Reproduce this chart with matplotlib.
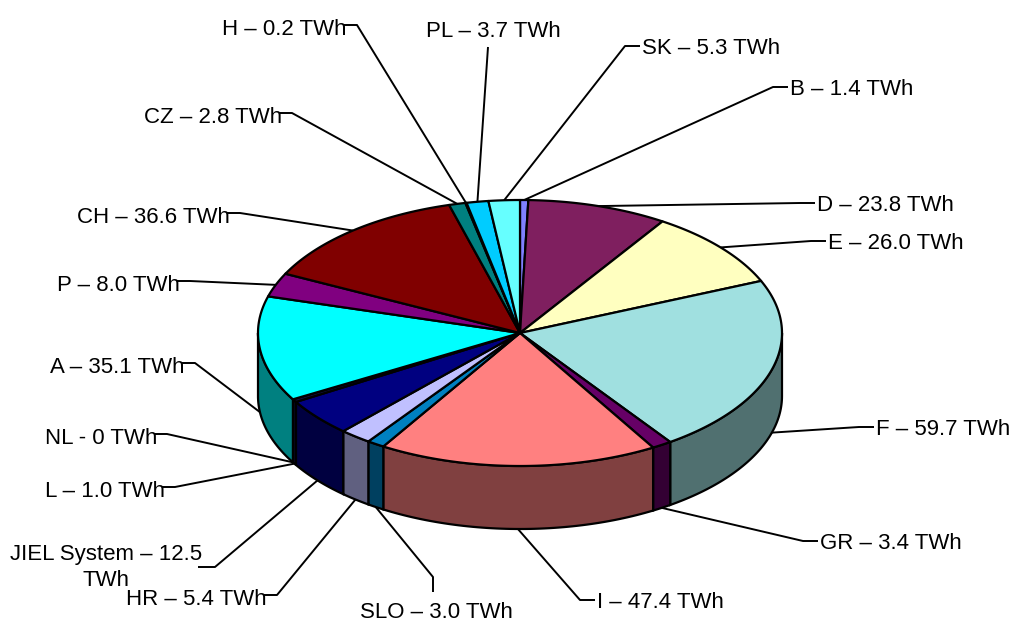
import numpy as np
import matplotlib.pyplot as plt
from matplotlib.patches import Polygon

plt.rcParams['font.family'] = ['Liberation Sans', 'DejaVu Sans']

# slices in clockwise order starting at 12 o'clock
countries = ["B", "D", "E", "F", "GR", "I", "SLO", "HR", "JIEL System", "L",
             "NL", "A", "P", "CH", "CZ", "H", "PL", "SK"]
energy_twh = [1.4, 23.8, 26.0, 59.7, 3.4, 47.4, 3.0, 5.4, 12.5, 1.0,
              0.0, 35.1, 8.0, 36.6, 2.8, 0.2, 3.7, 5.3]
slice_colors = ["#8080FF", "#7F1F5F", "#FFFFC0", "#A0E0E0", "#660066", "#FF8080",
                "#0080C0", "#C0C0FF", "#000080", "#101040", "#FFFF00", "#00FFFF",
                "#800080", "#800000", "#008080", "#0000FF", "#00CCFF", "#66FFFF"]

# label placement: (x, baseline y, alignment)
label_pos = {
    "B": (790, 95, "left"), "D": (817, 211, "left"), "E": (828, 249, "left"),
    "F": (876, 435, "left"), "GR": (820, 549, "left"), "I": (597, 608, "left"),
    "SLO": (436, 618, "center"), "HR": (267, 605, "right"),
    "JIEL System": (106, 544, "center"), "L": (165, 497, "right"),
    "NL": (157, 444, "right"), "A": (185, 373, "right"), "P": (180, 291, "right"),
    "CH": (230, 223, "right"), "CZ": (282, 123, "right"), "H": (347, 35, "right"),
    "PL": (493, 37, "center"), "SK": (642, 54, "left"),
}

cx, cy, rx, ry, depth = 520, 333, 262, 133, 63


def rim(theta_deg, drop=0.0):
    t = np.radians(theta_deg)
    return cx + rx * np.sin(t), cy - ry * np.cos(t) + drop


def shade(hex_color, f=0.5):
    r, g, b = (int(hex_color[i:i + 2], 16) / 255 for i in (1, 3, 5))
    return (r * f, g * f, b * f)


def label_text(name, v):
    if name == "NL":
        return "NL - 0 TWh"
    if name == "JIEL System":
        return f"{name} \u2013 {v:.1f}\nTWh"
    return f"{name} \u2013 {v:.1f} TWh"


fig = plt.figure(figsize=(10.12, 6.21), dpi=100)
ax = fig.add_axes([0, 0, 1, 1])
ax.set_xlim(0, 1012)
ax.set_ylim(621, 0)
ax.axis("off")

total = sum(energy_twh)
bounds = np.concatenate([[0], np.cumsum(energy_twh)]) / total * 360

for i, name in enumerate(countries):
    a0, a1 = bounds[i], bounds[i + 1]
    col = slice_colors[i]
    if a1 > a0:
        # side wall, only the front half of the disc is visible
        s0, s1 = max(a0, 90), min(a1, 270)
        if s1 > s0:
            th = np.linspace(s0, s1, 60)
            xt, yt = rim(th)
            xb, yb = rim(th[::-1], depth)
            pts = np.column_stack([np.concatenate([xt, xb]), np.concatenate([yt, yb])])
            ax.add_patch(Polygon(pts, closed=True, facecolor=shade(col),
                                 edgecolor="black", lw=1.6, zorder=2))
        th = np.linspace(a0, a1, 80)
        xt, yt = rim(th)
        pts = np.column_stack([np.concatenate([[cx], xt]), np.concatenate([[cy], yt])])
        ax.add_patch(Polygon(pts, closed=True, facecolor=col, edgecolor="black",
                             lw=1.6, zorder=3, joinstyle="round"))

    # leader line from the label to the middle of the slice rim
    mid = (a0 + a1) / 2
    px, py = rim(mid, depth if 90 < mid < 270 else 0)
    tx, ty, ha = label_pos[name]
    if name == "PL":
        path = [(tx - 5, ty + 10), (px, py)]
    elif name == "SLO":
        path = [(tx - 3, ty - 26), (tx - 3, ty - 41), (px, py)]
    elif name == "JIEL System":
        path = [(tx + 92, ty + 23), (tx + 109, ty + 23), (px, py)]
    elif ha == "right":
        path = [(tx - 3, ty - 10), (tx + 10, ty - 10), (px, py)]
    else:
        path = [(tx - 2, ty - 8), (tx - 17, ty - 8), (px, py)]
    xs, ys = zip(*path)
    ax.plot(xs, ys, color="black", lw=1.4, zorder=1, solid_capstyle="butt")

    va = "top" if name == "JIEL System" else "baseline"
    ax.text(tx, ty, label_text(name, energy_twh[i]), ha=ha, va=va,
            fontsize=16, color="black", zorder=4, multialignment="center",
            linespacing=1.3)

fig.savefig("out.png", dpi=100)
